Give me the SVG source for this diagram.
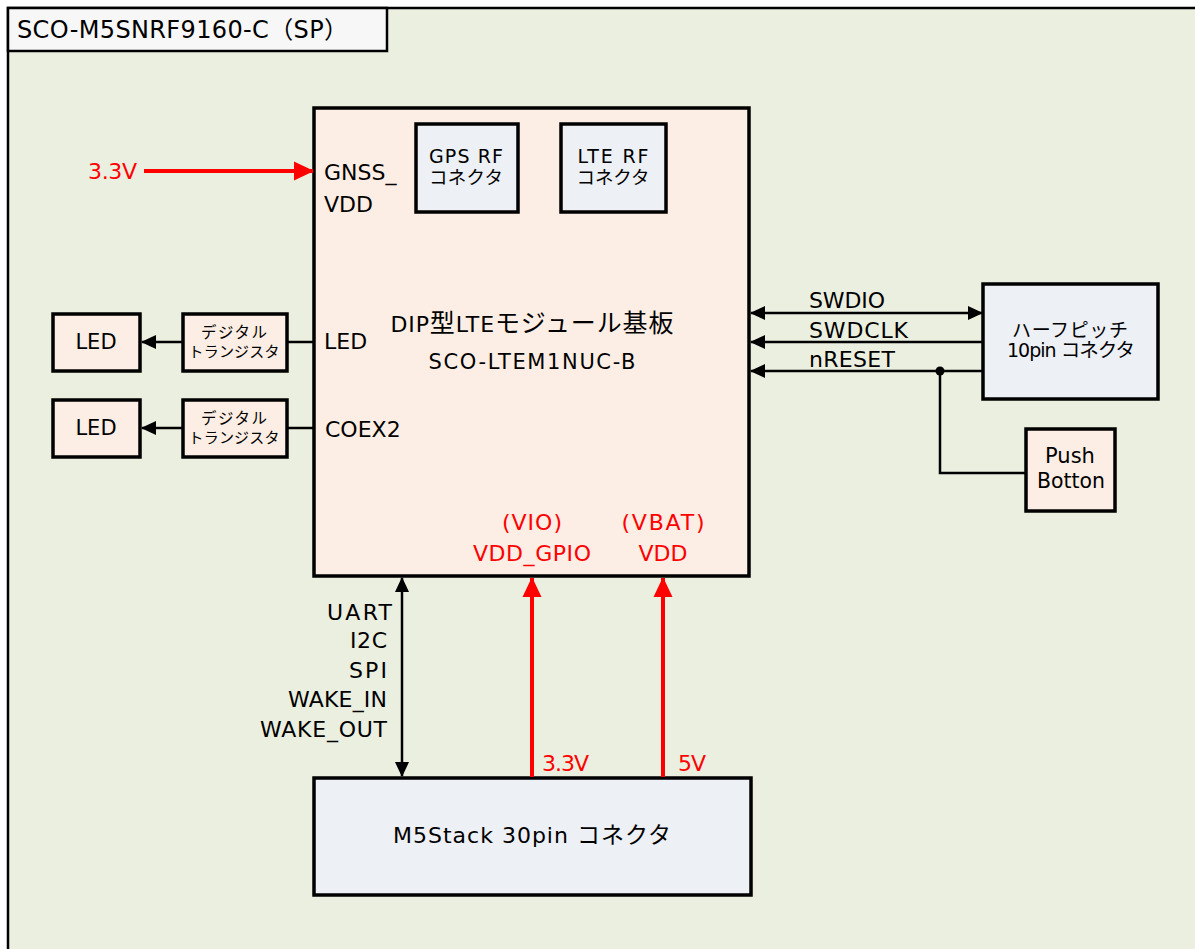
<svg xmlns="http://www.w3.org/2000/svg" width="1195" height="949" viewBox="0 0 1195 949" font-size="22">
<style>
text{font-family:"DejaVu Sans","Noto Sans CJK JP",sans-serif;fill:#000;}
.j{font-family:"Noto Sans CJK JP",sans-serif;}
.frame{fill:#EBEFDF;stroke:#000;stroke-width:2.5;}
.peach{fill:#FCEEE4;stroke:#000;stroke-width:3.5;}
.blue{fill:#EDF0F5;stroke:#000;stroke-width:3.5;}
.wire{stroke:#000;stroke-width:2.5;fill:none;}
.pwr{stroke:#FF0000;stroke-width:4;fill:none;}
.r{fill:#FF0000;}
.mid{text-anchor:middle;}
.end{text-anchor:end;}
</style>
<defs>
<marker id="ab" markerUnits="userSpaceOnUse" markerWidth="15" markerHeight="15" refX="14" refY="7.5" orient="auto-start-reverse" viewBox="0 0 15 15"><path d="M0,0.5 L15,7.5 L0,14.5 Z" fill="#000"/></marker>
<marker id="ar" markerUnits="userSpaceOnUse" markerWidth="20" markerHeight="20" refX="19" refY="10" orient="auto" viewBox="0 0 20 20"><path d="M0,0.5 L20,10 L0,19.5 Z" fill="#FF0000"/></marker>
</defs>
<g id="frame">
<rect class="frame" x="8" y="8" width="1200" height="960"/>
<rect x="8" y="8" width="379" height="43" fill="#F7F7F7" stroke="#000" stroke-width="2.5"/>
<text x="17" y="38" font-size="24" textLength="331" lengthAdjust="spacing">SCO-M5SNRF9160-C<tspan class="j">（</tspan>SP<tspan class="j">）</tspan></text>
</g>
<g id="main-board">
<rect class="peach" x="314" y="108" width="435" height="468"/>
<text x="532" y="332" class="mid" textLength="283" lengthAdjust="spacing">DIP<tspan class="j" font-size="25">型</tspan>LTE<tspan class="j" font-size="25">モジュール基板</tspan></text>
<text x="532" y="369" class="mid" font-size="21" textLength="207" lengthAdjust="spacing">SCO-LTEM1NUC-B</text>
<text x="324" y="180">GNSS_</text>
<text x="324" y="212">VDD</text>
<text x="324" y="349">LED</text>
<text x="325" y="437">COEX2</text>
<text x="532" y="530" class="mid r" textLength="60" lengthAdjust="spacing">(VIO)</text>
<text x="532" y="561" class="mid r" textLength="118" lengthAdjust="spacing">VDD_GPIO</text>
<text x="663" y="530" class="mid r" textLength="83" lengthAdjust="spacing">(VBAT)</text>
<text x="663" y="561" class="mid r">VDD</text>
</g>
<g id="gps-rf">
<rect class="blue" x="416" y="124" width="102" height="88"/>
<text x="466" y="163" class="mid" font-size="19" textLength="74" lengthAdjust="spacing">GPS RF</text>
<text x="466" y="184" class="mid j" font-size="18.5" textLength="74" lengthAdjust="spacing">コネクタ</text>
</g>
<g id="lte-rf">
<rect class="blue" x="561" y="124" width="105" height="88"/>
<text x="613" y="163" class="mid" font-size="19" textLength="71" lengthAdjust="spacing">LTE RF</text>
<text x="613" y="184" class="mid j" font-size="18.5" textLength="73" lengthAdjust="spacing">コネクタ</text>
</g>
<g id="led1">
<rect class="peach" x="53" y="314" width="87" height="57"/>
<text x="96" y="349" class="mid" font-size="21">LED</text>
</g>
<g id="tr1">
<rect class="peach" x="183" y="314" width="104" height="57"/>
<text x="234" y="338" class="mid j" font-size="15.5" textLength="66" lengthAdjust="spacing">デジタル</text>
<text x="234" y="357" class="mid j" font-size="15" textLength="91" lengthAdjust="spacing">トランジスタ</text>
</g>
<g id="led2">
<rect class="peach" x="53" y="400" width="87" height="57"/>
<text x="96" y="435" class="mid" font-size="21">LED</text>
</g>
<g id="tr2">
<rect class="peach" x="183" y="400" width="104" height="57"/>
<text x="234" y="424" class="mid j" font-size="15.5" textLength="66" lengthAdjust="spacing">デジタル</text>
<text x="234" y="443" class="mid j" font-size="15" textLength="91" lengthAdjust="spacing">トランジスタ</text>
</g>
<g id="half-pitch">
<rect class="blue" x="983" y="284" width="175" height="115"/>
<text x="1070" y="337" class="mid j" font-size="19" textLength="116" lengthAdjust="spacing">ハーフピッチ</text>
<text x="1071" y="357" class="mid" font-size="19" textLength="128" lengthAdjust="spacing">10pin <tspan class="j" font-size="19.5">コネクタ</tspan></text>
</g>
<g id="push">
<rect class="peach" x="1026" y="429" width="89" height="82"/>
<text x="1070" y="463" class="mid" font-size="21">Push</text>
<text x="1071" y="488" class="mid" font-size="21" textLength="68" lengthAdjust="spacingAndGlyphs">Botton</text>
</g>
<g id="m5stack">
<rect class="blue" x="314" y="778" width="437" height="117"/>
<text x="532" y="843" class="mid" textLength="278" lengthAdjust="spacing">M5Stack 30pin <tspan class="j" font-size="23">コネクタ</tspan></text>
</g>
<g id="connectors">
<line class="pwr" x1="144" y1="171" x2="313" y2="171" marker-end="url(#ar)"/>
<text x="137" y="179" class="end r" textLength="49" lengthAdjust="spacing">3.3V</text>
<line class="wire" x1="287" y1="342" x2="314" y2="342"/>
<line class="wire" x1="183" y1="342" x2="142" y2="342" marker-end="url(#ab)"/>
<line class="wire" x1="287" y1="428" x2="314" y2="428"/>
<line class="wire" x1="183" y1="428" x2="142" y2="428" marker-end="url(#ab)"/>
<line class="wire" x1="751" y1="313" x2="982" y2="313" marker-start="url(#ab)" marker-end="url(#ab)"/>
<line class="wire" x1="983" y1="342" x2="751" y2="342" marker-end="url(#ab)"/>
<line class="wire" x1="983" y1="371" x2="751" y2="371" marker-end="url(#ab)"/>
<polyline class="wire" points="940,371 940,473 1026,473"/>
<circle cx="940" cy="371" r="4.5" fill="#000"/>
<text x="809" y="308" textLength="76" lengthAdjust="spacing">SWDIO</text>
<text x="809" y="338" textLength="99" lengthAdjust="spacing">SWDCLK</text>
<text x="809" y="367" textLength="86" lengthAdjust="spacing">nRESET</text>
<line class="wire" x1="402" y1="578" x2="402" y2="776" marker-start="url(#ab)" marker-end="url(#ab)"/>
<text x="392" y="620" class="end" textLength="65" lengthAdjust="spacing">UART</text>
<text x="387" y="648" class="end" textLength="37" lengthAdjust="spacing">I2C</text>
<text x="387" y="678" class="end" textLength="38" lengthAdjust="spacing">SPI</text>
<text x="387" y="707" class="end" textLength="99" lengthAdjust="spacing">WAKE_IN</text>
<text x="387" y="737" class="end" textLength="127" lengthAdjust="spacing">WAKE_OUT</text>
<line class="pwr" x1="532" y1="777" x2="532" y2="578" marker-end="url(#ar)"/>
<line class="pwr" x1="663" y1="777" x2="663" y2="578" marker-end="url(#ar)"/>
<text x="542" y="771" class="r" textLength="47" lengthAdjust="spacing">3.3V</text>
<text x="678" y="771" class="r" textLength="28" lengthAdjust="spacing">5V</text>
</g>
</svg>
